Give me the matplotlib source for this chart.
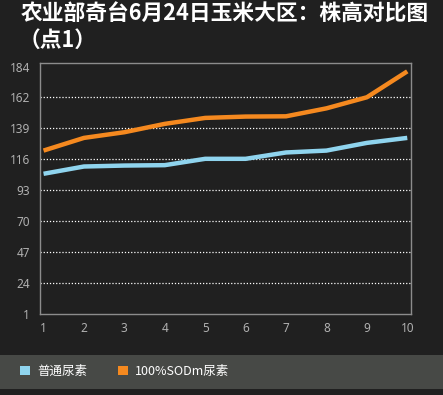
import matplotlib
matplotlib.use("Agg")
import matplotlib.pyplot as plt
from matplotlib.patches import Patch, Rectangle

plt.rcParams['font.family'] = ['Noto Sans CJK SC', 'DejaVu Sans']

x_vals = [1, 2, 3, 4, 5, 6, 7, 8, 9, 10]
normal_urea = [104.9, 110.3, 111.0, 111.3, 116.0, 116.0, 120.7, 122.1, 127.8, 131.5]
sodm_urea = [122.1, 131.5, 135.7, 141.9, 146.3, 147.3, 147.5, 153.4, 161.6, 180.8]
series_names = ['普通尿素', '100%SODm尿素']
series_colors = ['#8fd4ee', '#f5891f']
y_ticks = [1, 24, 47, 70, 93, 116, 139, 162, 184]
grid_vals = [24, 47, 70, 93, 116, 139, 162]
title_line1 = '农业部奇台6月24日玉米大区：株高对比图'
title_line2 = '（点1）'

bg = '#202020'
fig = plt.figure(figsize=(4.43, 3.95), dpi=100, facecolor=bg)

# legend band
fig.patches.append(Rectangle((0, 6/395), 1, 34/395, transform=fig.transFigure,
                             facecolor='#474946', edgecolor='none', zorder=0))

ax = fig.add_axes([39.5/443, 81/395, 371/443, 251/395])
ax.set_facecolor(bg)

for v in grid_vals:
    ax.axhline(v, color='white', linestyle=(0, (1, 1.5)), linewidth=0.9, zorder=1)

ax.plot(x_vals, normal_urea, color=series_colors[0], linewidth=3.2, zorder=3,
        solid_capstyle='butt')
ax.plot(x_vals, sodm_urea, color=series_colors[1], linewidth=3.2, zorder=3,
        solid_capstyle='butt')

ax.set_xlim(0.9, 10.08)
ax.set_ylim(1, 187)
ax.set_xticks(x_vals)
ax.set_yticks(y_ticks)
ax.tick_params(axis='both', length=0, colors='#b0b0b0', labelsize=8.5)
ax.tick_params(axis='y', pad=7)
ax.tick_params(axis='x', pad=6)
for lab in ax.get_xticklabels() + ax.get_yticklabels():
    lab.set_fontfamily(['Noto Sans', 'DejaVu Sans'])
for s in ax.spines.values():
    s.set_color('#8c8c8c')
    s.set_linewidth(1)

t1 = fig.text(21/443, 1 - 13.5/395, title_line1, color='white', fontsize=14.5,
              fontweight='bold', ha='left', va='center')
# fit the first title line to the width it has in the original (~408 px)
fig.canvas.draw()
w = t1.get_window_extent().width
fs = 14.5 * 408 / w
t1.set_fontsize(fs)
fig.text(19/443, 1 - 40/395, title_line2, color='white', fontsize=fs,
         fontweight='bold', ha='left', va='center')

handles = [Patch(facecolor=c, edgecolor='none') for c in series_colors]
leg = fig.legend(handles, series_names, loc='center left',
                 bbox_to_anchor=(20/443, 1 - 371.5/395), frameon=False, ncol=2,
                 fontsize=9, handlelength=0.8, handleheight=0.8,
                 handletextpad=0.6, columnspacing=2.4, borderpad=0,
                 borderaxespad=0)
for t in leg.get_texts():
    t.set_color('white')

fig.savefig('out.png', dpi=100, facecolor=bg)
